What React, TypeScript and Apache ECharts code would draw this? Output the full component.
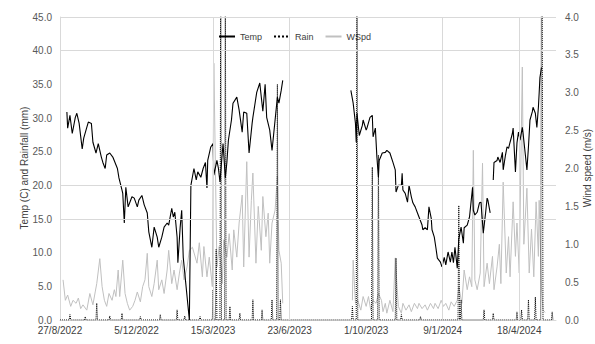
import React, { useEffect, useRef } from "react";
import * as echarts from "echarts";

// x values are days since 27/8/2022
const xTickLabels = ["27/8/2022", "5/12/2022", "15/3/2023", "23/6/2023", "1/10/2023", "9/1/2024", "18/4/2024"];
const leftTicks = [0, 45, 5];
const rightTicks = [0, 4, 0.5];
const gridYLines = [45, 40, 20, 15];
const gridXLines = [200, 300, 500, 600];
const leftTitle = "Temp (C) and Rainfall (mm)";
const rightTitle = "Wind speed (m/s)";

const tempData: [number, number | null][] = [
  [9, 30.9], [10, 28.5], [13, 30.4], [16, 27.7], [20, 30.1], [22, 30.7], [25, 29.2], [29, 25.4], [31, 27.0], [35, 28.6],
  [37, 29.4], [41, 29.2], [43, 26.4], [47, 24.8], [50, 26.2], [54, 24.2], [56, 23.4], [59, 22.5], [61, 24.5], [65, 24.8],
  [69, 24.2], [75, 22.5], [77, 21.1], [81, 19.3], [82, 18.8], [84, 14.4], [86, 19.7], [89, 16.8], [94, 18.3], [97, 18.1],
  [101, 16.8], [103, 17.8], [107, 18.5], [110, 17.1], [114, 15.9], [116, 13.1], [120, 10.8], [123, 13.8], [127, 12.3], [129, 10.8],
  [133, 12.3], [136, 13.8], [140, 14.4], [142, 14.1], [146, 16.6], [148, 15.3], [150, 16.0], [153, 12.3], [154, 8.5], [157, 13.8],
  [159, 16.3], [161, 9.3], [169, 0], [171, 20.0], [175, 22.5], [178, 20.8], [180, 22.0], [184, 21.2], [187, 22.5], [190, 23.4],
  [192, 19.6], [193, 23.7], [197, 25.7], [200, 26.2], [201, 21.5], [205, 23.7], [207, 22.5], [209, 20.5], [212, 24.8], [213, 26.2],
  [216, 21.1], [218, 23.4], [220, 26.7], [224, 29.7], [226, 32.2], [231, 33.1], [234, 31.2], [238, 27.9], [240, 30.9], [244, 30.7],
  [247, 24.8], [251, 29.2], [252, 30.1], [257, 33.8], [261, 35.2], [265, 31.0], [268, 35.0], [270, 30.1], [274, 28.2], [277, 25.2],
  [281, 29.7], [284, 33.1], [286, 32.2], [289, 34.1], [291, 35.6],
  [330, null],
  [380, 34.1], [383, 32.2], [386, 29.2], [387, 26.4], [388, 30.7], [391, 27.4], [395, 28.9], [396, 29.7], [400, 28.2], [401, 28.5],
  [405, 30.1], [408, 30.4], [409, 27.2], [412, 28.5], [414, 24.2], [416, 21.2], [417, 23.7], [421, 24.8], [425, 24.9], [427, 25.2],
  [431, 24.8], [435, 23.4], [438, 22.3], [439, 19.0], [442, 20.0], [446, 20.0], [447, 21.8], [448, 19.3], [451, 18.8], [454, 17.5],
  [456, 20.0], [459, 18.3], [461, 17.4], [464, 16.8], [467, 15.9], [469, 15.3], [473, 14.1], [474, 13.4], [477, 13.7], [480, 13.4],
  [482, 16.8], [485, 15.1], [486, 13.4], [489, 12.3], [491, 10.8], [493, 9.2], [497, 8.6], [499, 7.9], [502, 9.3], [504, 8.2],
  [507, 10.1], [510, 8.6], [512, 10.1], [514, 8.5], [516, 10.8], [519, 7.7], [521, 12.0], [524, 13.8], [527, 11.4], [528, 13.7],
  [532, 14.1], [535, 15.3], [539, 19.7], [540, 16.3], [542, 15.6], [545, 16.0], [548, 17.4], [550, 17.5], [553, 12.9], [556, 15.9],
  [558, 18.1], [559, 17.8], [562, 15.9],
  [564, null],
  [566, 20.8], [567, 23.4], [571, 23.7], [572, 24.2], [575, 23.4], [578, 24.9], [579, 22.3], [582, 24.5], [584, 25.7], [586, 25.5],
  [588, 26.4], [591, 27.7], [592, 28.5], [595, 22.0], [597, 26.3], [599, 27.9], [601, 26.7], [604, 28.6], [605, 27.7], [608, 24.5],
  [610, 22.3], [612, 25.7], [614, 29.7], [617, 30.9], [618, 31.6], [621, 30.7], [623, 28.6], [625, 31.6], [626, 33.7], [627, 36.0],
  [629, 37.5],
];

const rainData: [number, number][] = [
  [0, 0], [12, 0], [13, 0.8], [14, 0], [32, 0], [33, 0.5], [34, 0], [47, 0], [48, 2.5], [49, 0], [64, 0], [65, 0.6], [66, 0],
  [80, 0], [81, 1.0], [82, 0], [104, 0], [105, 0.5], [106, 0], [130, 0], [131, 0.8], [132, 0], [152, 0], [153, 1.5], [154, 0],
  [162, 0], [163, 0.6], [164, 0], [182, 0], [183, 0.5], [184, 0], [199, 0], [200, 4.5], [201, 0], [203, 0], [204, 10.5], [205, 0],
  [209, 0], [210, 52], [211, 0], [215, 0], [216, 50], [217, 0], [221, 0], [222, 2.0], [223, 0], [234, 0], [235, 1.0], [236, 0],
  [251, 0], [252, 3.0], [253, 0], [263, 0], [264, 1.5], [265, 0], [276, 0], [277, 3.0], [278, 0], [283, 0], [284, 35], [285, 0],
  [287, 0], [288, 3.0], [289, 0],
  [381, 0], [382, 2.0], [383, 0], [387, 0], [388, 52], [389, 0], [407, 0], [408, 22.7], [409, 0], [415, 0], [416, 24.5], [417, 0],
  [438, 0], [439, 9.2], [440, 0], [445, 0], [446, 0.8], [447, 0], [470, 0], [471, 0.5], [472, 0], [520, 0], [521, 17.0], [522, 0],
  [523, 0], [524, 3.0], [525, 0], [553, 0], [554, 1.5], [555, 0], [565, 0], [566, 1.0], [567, 0], [596, 0], [597, 1.2], [598, 0],
  [602, 0], [603, 1.5], [604, 0], [611, 0], [612, 3.0], [613, 0], [620, 0], [621, 3.4], [622, 0], [628, 0], [629, 52], [630, 50],
  [631, 0], [642, 0], [643, 1.2], [644, 0],
];

const windData: [number, number | null][] = [
  [4, 0.53], [7, 0.26], [10, 0.33], [14, 0.18], [17, 0.26], [21, 0.22], [24, 0.29], [27, 0.15], [30, 0.2], [35, 0.13],
  [39, 0.35], [43, 0.2], [46, 0.37], [48, 0.48], [52, 0.81], [55, 0.44], [58, 0.26], [61, 0.18], [64, 0.35], [68, 0.26],
  [71, 0.4], [73, 0.31], [76, 0.66], [78, 0.31], [82, 0.79], [85, 0.35], [88, 0.22], [91, 0.13], [95, 0.18], [98, 0.26],
  [101, 0.37], [105, 0.24], [108, 0.44], [111, 0.53], [114, 0.88], [116, 0.44], [120, 0.31], [123, 0.48], [127, 0.79], [129, 0.4],
  [133, 0.53], [136, 0.35], [140, 0.66], [142, 0.92], [146, 0.48], [149, 0.66], [153, 0.4], [156, 0.62], [159, 0.79], [162, 0.53],
  [166, 0.7], [169, 0.92], [173, 0.96], [179, 0.75], [182, 1.02], [186, 0.57], [188, 0.97], [192, 0.57], [195, 0.83], [199, 0.44],
  [201, 3.39], [205, 0.7], [208, 0.97], [212, 0.48], [214, 1.06], [218, 0.83], [221, 1.14], [225, 0.66], [227, 1.19], [231, 0.83],
  [234, 1.28], [238, 1.65], [240, 0.7], [244, 2.09], [247, 0.83], [250, 1.58], [252, 1.94], [256, 0.75], [259, 1.5], [263, 0.92],
  [265, 1.63], [269, 1.1], [272, 1.41], [274, 0.75], [277, 1.28], [281, 1.45], [284, 1.9], [286, 0.92], [289, 0.75], [291, 0.22],
  [330, null],
  [382, 0.26], [383, 0.79], [386, 0.22], [389, 0.26], [393, 0.13], [396, 0.31], [400, 0.18], [403, 0.31], [406, 0.13], [409, 0.26],
  [413, 0.22], [416, 0.35], [420, 0.26], [422, 0.11], [425, 0.22], [427, 0.09], [431, 0.26], [435, 0.11], [438, 0.82], [442, 0.18],
  [446, 0.09], [448, 0.22], [452, 0.13], [456, 0.2], [459, 0.11], [463, 0.22], [467, 0.15], [469, 0.22], [473, 0.15], [477, 0.2],
  [480, 0.13], [484, 0.22], [488, 0.15], [490, 0.22], [494, 0.15], [498, 0.26], [501, 0.18], [504, 0.22], [508, 0.13], [511, 0.24],
  [515, 0.18], [519, 0.26], [521, 0.44], [525, 0.22], [528, 0.66], [532, 0.4], [535, 0.57], [538, 0.44], [540, 2.24], [542, 0.53],
  [545, 0.4], [549, 0.62], [552, 2.07], [554, 0.44], [558, 0.75], [561, 0.48], [565, 0.84], [567, 0.4], [571, 0.7], [574, 1.0],
  [576, 0.48], [579, 1.82], [583, 0.62], [586, 1.1], [588, 0.57], [592, 1.56], [595, 0.84], [597, 1.28], [600, 0.62], [604, 3.34],
  [606, 1.0], [610, 1.74], [613, 0.62], [616, 1.2], [619, 0.57], [622, 1.56], [625, 0.84], [626, 1.58], [629, 0.44], [631, 0.13],
  [634, 0.1],
];

const FONT = "'Liberation Sans', Arial, sans-serif";
const LABEL_COLOR = "#595959";
const GRID_COLOR = "#d9d9d9";
const LINE_ICON = "path://M0,0h16v1h-16z";
const DOT_ICON = "path://M0,0h1v1h-1zM2,0h1v1h-1zM4,0h1v1h-1zM6,0h1v1h-1zM8,0h1v1h-1zM10,0h1v1h-1zM12,0h1v1h-1zM14,0h1v1h-1z";

export default function App() {
  const ref = useRef<HTMLDivElement>(null);
  useEffect(() => {
    if (!ref.current) return;
    const chart = echarts.init(ref.current, null, { renderer: "svg" });
    chart.setOption({
      animation: false,
      backgroundColor: "#ffffff",
      textStyle: { fontFamily: FONT },
      grid: { left: 60, right: 39, top: 17, bottom: 24, containLabel: false, outerBoundsMode: "none" },
      graphic: [
        {
          type: "text",
          x: 24,
          y: 168,
          rotation: Math.PI / 2,
          style: { text: leftTitle, fontSize: 10, fill: "#404040", fontFamily: FONT, align: "center", verticalAlign: "middle" },
        },
        {
          type: "text",
          x: 587,
          y: 168,
          rotation: Math.PI / 2,
          style: { text: rightTitle, fontSize: 10, fill: "#404040", fontFamily: FONT, align: "center", verticalAlign: "middle" },
        },
      ],
      legend: {
        left: 213,
        top: 27,
        itemWidth: 16,
        itemHeight: 1,
        itemGap: 11,
        itemStyle: { borderWidth: 0 },
        textStyle: { fontSize: 9, color: "#404040", fontFamily: FONT },
        data: ["Temp", "Rain", "WSpd"],
      },
      xAxis: {
        type: "value",
        min: 0,
        max: 648,
        interval: 100,
        axisLine: { show: true, lineStyle: { color: GRID_COLOR } },
        axisTick: { show: false },
        splitLine: { show: false },
        axisLabel: {
          showMaxLabel: false,
          fontSize: 10,
          color: "#404040",
          margin: 5,
          formatter: (v: number) => (v % 100 === 0 && xTickLabels[v / 100] ? xTickLabels[v / 100] : ""),
        },
      },
      yAxis: [
        {
          type: "value",
          min: leftTicks[0],
          max: leftTicks[1],
          interval: leftTicks[2],
          axisLine: { show: true, lineStyle: { color: GRID_COLOR } },
          axisTick: { show: false },
          splitLine: { show: false },
          axisLabel: { fontSize: 10, color: LABEL_COLOR, margin: 8, formatter: (v: number) => v.toFixed(1) },
        },
        {
          type: "value",
          position: "right",
          min: rightTicks[0],
          max: rightTicks[1],
          interval: rightTicks[2],
          axisLine: { show: false },
          axisTick: { show: false },
          splitLine: { show: false },
          axisLabel: { fontSize: 10, color: LABEL_COLOR, margin: 9, formatter: (v: number) => v.toFixed(1) },
        },
      ],
      series: [
        {
          name: "WSpd",
          type: "line",
          yAxisIndex: 1,
          data: windData,
          symbol: "none",
          legendIcon: LINE_ICON,
          connectNulls: false,
          lineStyle: { color: "#c0c0c0", width: 1 },
          itemStyle: { color: "#c0c0c0" },
          z: 1,
          markLine: {
            silent: true,
            symbol: ["none", "none"],
            label: { show: false },
            lineStyle: { color: GRID_COLOR, type: "solid", width: 1 },
            data: [
              ...gridXLines.map((x) => ({ xAxis: x })),
              ...gridYLines.map((y) => ({ yAxis: (y / 45) * 4 })),
            ],
          },
        },
        {
          name: "Temp",
          type: "line",
          yAxisIndex: 0,
          data: tempData,
          symbol: "none",
          legendIcon: LINE_ICON,
          connectNulls: false,
          lineStyle: { color: "#000000", width: 1.1 },
          itemStyle: { color: "#000000" },
          z: 3,
        },
        {
          name: "Rain",
          type: "line",
          yAxisIndex: 0,
          data: rainData,
          symbol: "none",
          legendIcon: DOT_ICON,
          lineStyle: { color: "#000000", width: 1, type: "dotted" },
          itemStyle: { color: "#000000" },
          z: 4,
        },
      ],
    });
    return () => chart.dispose();
  }, []);
  return (
    <div
      ref={ref}
      style={{ position: "fixed", left: 0, top: 0, width: 595, height: 344, background: "#fff" }}
    />
  );
}
